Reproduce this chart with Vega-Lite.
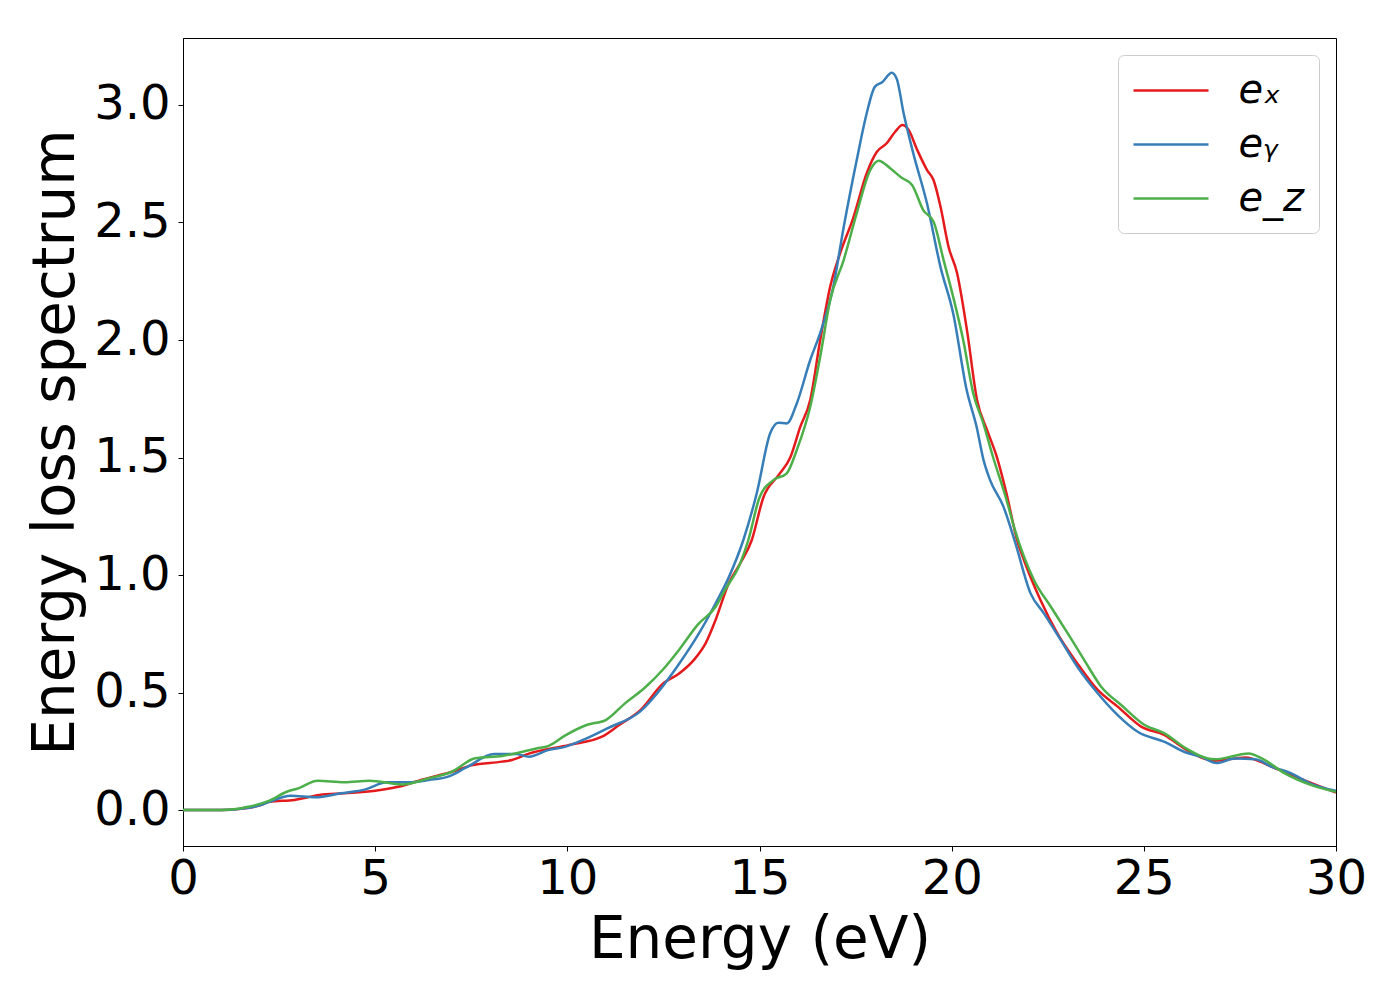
{
  "$schema": "https://vega.github.io/schema/vega-lite/v6.json",
  "width": 1153,
  "height": 808,
  "autosize": {"type": "none"},
  "padding": {"left": 183, "top": 38, "right": 64, "bottom": 154},
  "background": "white",
  "config": {
    "font": "DejaVu Sans",
    "view": {"stroke": "black", "strokeWidth": 1},
    "axis": {
      "labelFont": "DejaVu Sans",
      "titleFont": "DejaVu Sans",
      "labelFontSize": 48,
      "titleFontSize": 58,
      "titleFontWeight": "normal",
      "labelColor": "black",
      "titleColor": "black",
      "domainColor": "black",
      "tickColor": "black",
      "tickSize": 5,
      "grid": false
    },
    "legend": {
      "labelFont": "DejaVu Sans",
      "labelFontSize": 40,
      "labelFontStyle": "italic",
      "labelColor": "black"
    }
  },
  "datasets": {
    "spectra": [
      {"E": 0, "v": 0, "s": "eₓ"},
      {"E": 1.0, "v": 0, "s": "eₓ"},
      {"E": 1.5, "v": 0.005, "s": "eₓ"},
      {"E": 2.0, "v": 0.02, "s": "eₓ"},
      {"E": 2.25, "v": 0.035, "s": "eₓ"},
      {"E": 2.9, "v": 0.043, "s": "eₓ"},
      {"E": 3.55, "v": 0.064, "s": "eₓ"},
      {"E": 4.2, "v": 0.071, "s": "eₓ"},
      {"E": 5.0, "v": 0.082, "s": "eₓ"},
      {"E": 5.6, "v": 0.099, "s": "eₓ"},
      {"E": 6.24, "v": 0.13, "s": "eₓ"},
      {"E": 7.0, "v": 0.163, "s": "eₓ"},
      {"E": 7.5, "v": 0.19, "s": "eₓ"},
      {"E": 8.3, "v": 0.206, "s": "eₓ"},
      {"E": 8.56, "v": 0.213, "s": "eₓ"},
      {"E": 9.0, "v": 0.24, "s": "eₓ"},
      {"E": 10.05, "v": 0.277, "s": "eₓ"},
      {"E": 10.9, "v": 0.312, "s": "eₓ"},
      {"E": 11.35, "v": 0.362, "s": "eₓ"},
      {"E": 11.9, "v": 0.425, "s": "eₓ"},
      {"E": 12.5, "v": 0.54, "s": "eₓ"},
      {"E": 12.9, "v": 0.58, "s": "eₓ"},
      {"E": 13.3, "v": 0.64, "s": "eₓ"},
      {"E": 13.6, "v": 0.71, "s": "eₓ"},
      {"E": 13.86, "v": 0.81, "s": "eₓ"},
      {"E": 14.2, "v": 0.965, "s": "eₓ"},
      {"E": 14.5, "v": 1.05, "s": "eₓ"},
      {"E": 14.8, "v": 1.149, "s": "eₓ"},
      {"E": 15.1, "v": 1.33, "s": "eₓ"},
      {"E": 15.5, "v": 1.426, "s": "eₓ"},
      {"E": 15.8, "v": 1.5, "s": "eₓ"},
      {"E": 16.06, "v": 1.63, "s": "eₓ"},
      {"E": 16.32, "v": 1.745, "s": "eₓ"},
      {"E": 16.58, "v": 2.0, "s": "eₓ"},
      {"E": 16.84, "v": 2.227, "s": "eₓ"},
      {"E": 17.1, "v": 2.37, "s": "eₓ"},
      {"E": 17.44, "v": 2.52, "s": "eₓ"},
      {"E": 17.79, "v": 2.71, "s": "eₓ"},
      {"E": 18.05, "v": 2.8, "s": "eₓ"},
      {"E": 18.31, "v": 2.837, "s": "eₓ"},
      {"E": 18.53, "v": 2.886, "s": "eₓ"},
      {"E": 18.72, "v": 2.915, "s": "eₓ"},
      {"E": 18.88, "v": 2.894, "s": "eₓ"},
      {"E": 19.1, "v": 2.81, "s": "eₓ"},
      {"E": 19.36, "v": 2.723, "s": "eₓ"},
      {"E": 19.53, "v": 2.68, "s": "eₓ"},
      {"E": 19.71, "v": 2.567, "s": "eₓ"},
      {"E": 19.92, "v": 2.396, "s": "eₓ"},
      {"E": 20.14, "v": 2.285, "s": "eₓ"},
      {"E": 20.4, "v": 2.04, "s": "eₓ"},
      {"E": 20.66, "v": 1.745, "s": "eₓ"},
      {"E": 20.92, "v": 1.617, "s": "eₓ"},
      {"E": 21.18, "v": 1.5, "s": "eₓ"},
      {"E": 21.43, "v": 1.345, "s": "eₓ"},
      {"E": 21.7, "v": 1.149, "s": "eₓ"},
      {"E": 21.88, "v": 1.064, "s": "eₓ"},
      {"E": 22.31, "v": 0.894, "s": "eₓ"},
      {"E": 22.75, "v": 0.752, "s": "eₓ"},
      {"E": 23.27, "v": 0.624, "s": "eₓ"},
      {"E": 23.8, "v": 0.511, "s": "eₓ"},
      {"E": 24.32, "v": 0.44, "s": "eₓ"},
      {"E": 24.93, "v": 0.355, "s": "eₓ"},
      {"E": 25.54, "v": 0.319, "s": "eₓ"},
      {"E": 26.06, "v": 0.261, "s": "eₓ"},
      {"E": 26.85, "v": 0.21, "s": "eₓ"},
      {"E": 27.64, "v": 0.224, "s": "eₓ"},
      {"E": 28.33, "v": 0.184, "s": "eₓ"},
      {"E": 29.2, "v": 0.125, "s": "eₓ"},
      {"E": 30, "v": 0.074, "s": "eₓ"},

      {"E": 0, "v": 0, "s": "eᵧ"},
      {"E": 1.0, "v": 0, "s": "eᵧ"},
      {"E": 1.5, "v": 0.005, "s": "eᵧ"},
      {"E": 2.0, "v": 0.02, "s": "eᵧ"},
      {"E": 2.25, "v": 0.035, "s": "eᵧ"},
      {"E": 2.8, "v": 0.061, "s": "eᵧ"},
      {"E": 3.45, "v": 0.054, "s": "eᵧ"},
      {"E": 4.1, "v": 0.071, "s": "eᵧ"},
      {"E": 4.75, "v": 0.088, "s": "eᵧ"},
      {"E": 5.3, "v": 0.118, "s": "eᵧ"},
      {"E": 5.87, "v": 0.118, "s": "eᵧ"},
      {"E": 6.4, "v": 0.128, "s": "eᵧ"},
      {"E": 6.9, "v": 0.142, "s": "eᵧ"},
      {"E": 7.36, "v": 0.18, "s": "eᵧ"},
      {"E": 8.1, "v": 0.238, "s": "eᵧ"},
      {"E": 8.66, "v": 0.238, "s": "eᵧ"},
      {"E": 9.0, "v": 0.227, "s": "eᵧ"},
      {"E": 9.5, "v": 0.255, "s": "eᵧ"},
      {"E": 9.96, "v": 0.27, "s": "eᵧ"},
      {"E": 10.5, "v": 0.305, "s": "eᵧ"},
      {"E": 11.07, "v": 0.35, "s": "eᵧ"},
      {"E": 11.9, "v": 0.42, "s": "eᵧ"},
      {"E": 12.5, "v": 0.53, "s": "eᵧ"},
      {"E": 12.9, "v": 0.62, "s": "eᵧ"},
      {"E": 13.4, "v": 0.745, "s": "eᵧ"},
      {"E": 13.86, "v": 0.88, "s": "eᵧ"},
      {"E": 14.2, "v": 0.99, "s": "eᵧ"},
      {"E": 14.58, "v": 1.149, "s": "eᵧ"},
      {"E": 14.93, "v": 1.349, "s": "eᵧ"},
      {"E": 15.28, "v": 1.604, "s": "eᵧ"},
      {"E": 15.49, "v": 1.648, "s": "eᵧ"},
      {"E": 15.71, "v": 1.645, "s": "eᵧ"},
      {"E": 15.97, "v": 1.73, "s": "eᵧ"},
      {"E": 16.32, "v": 1.915, "s": "eᵧ"},
      {"E": 16.58, "v": 2.03, "s": "eᵧ"},
      {"E": 16.92, "v": 2.227, "s": "eᵧ"},
      {"E": 17.19, "v": 2.48, "s": "eᵧ"},
      {"E": 17.53, "v": 2.766, "s": "eᵧ"},
      {"E": 17.79, "v": 2.965, "s": "eᵧ"},
      {"E": 18.0, "v": 3.077, "s": "eᵧ"},
      {"E": 18.2, "v": 3.098, "s": "eᵧ"},
      {"E": 18.44, "v": 3.137, "s": "eᵧ"},
      {"E": 18.57, "v": 3.112, "s": "eᵧ"},
      {"E": 18.75, "v": 2.965, "s": "eᵧ"},
      {"E": 19.0, "v": 2.795, "s": "eᵧ"},
      {"E": 19.36, "v": 2.58, "s": "eᵧ"},
      {"E": 19.71, "v": 2.31, "s": "eᵧ"},
      {"E": 20.04, "v": 2.113, "s": "eᵧ"},
      {"E": 20.39, "v": 1.787, "s": "eᵧ"},
      {"E": 20.65, "v": 1.63, "s": "eᵧ"},
      {"E": 20.83, "v": 1.489, "s": "eᵧ"},
      {"E": 21.0, "v": 1.404, "s": "eᵧ"},
      {"E": 21.35, "v": 1.29, "s": "eᵧ"},
      {"E": 21.65, "v": 1.14, "s": "eᵧ"},
      {"E": 22.05, "v": 0.923, "s": "eᵧ"},
      {"E": 22.4, "v": 0.837, "s": "eᵧ"},
      {"E": 22.84, "v": 0.723, "s": "eᵧ"},
      {"E": 23.27, "v": 0.61, "s": "eᵧ"},
      {"E": 23.8, "v": 0.497, "s": "eᵧ"},
      {"E": 24.32, "v": 0.404, "s": "eᵧ"},
      {"E": 24.84, "v": 0.333, "s": "eᵧ"},
      {"E": 25.54, "v": 0.29, "s": "eᵧ"},
      {"E": 26.06, "v": 0.247, "s": "eᵧ"},
      {"E": 26.5, "v": 0.226, "s": "eᵧ"},
      {"E": 26.89, "v": 0.2, "s": "eᵧ"},
      {"E": 27.37, "v": 0.219, "s": "eᵧ"},
      {"E": 27.9, "v": 0.216, "s": "eᵧ"},
      {"E": 28.33, "v": 0.184, "s": "eᵧ"},
      {"E": 28.85, "v": 0.155, "s": "eᵧ"},
      {"E": 29.29, "v": 0.116, "s": "eᵧ"},
      {"E": 30, "v": 0.082, "s": "eᵧ"},

      {"E": 0, "v": 0, "s": "e_z"},
      {"E": 1.0, "v": 0, "s": "e_z"},
      {"E": 1.7, "v": 0.014, "s": "e_z"},
      {"E": 2.25, "v": 0.04, "s": "e_z"},
      {"E": 2.7, "v": 0.078, "s": "e_z"},
      {"E": 3.0, "v": 0.092, "s": "e_z"},
      {"E": 3.5, "v": 0.125, "s": "e_z"},
      {"E": 4.2, "v": 0.118, "s": "e_z"},
      {"E": 4.85, "v": 0.125, "s": "e_z"},
      {"E": 5.7, "v": 0.109, "s": "e_z"},
      {"E": 6.4, "v": 0.135, "s": "e_z"},
      {"E": 7.0, "v": 0.163, "s": "e_z"},
      {"E": 7.6, "v": 0.22, "s": "e_z"},
      {"E": 8.3, "v": 0.23, "s": "e_z"},
      {"E": 9.2, "v": 0.262, "s": "e_z"},
      {"E": 9.5, "v": 0.272, "s": "e_z"},
      {"E": 9.96, "v": 0.319, "s": "e_z"},
      {"E": 10.5, "v": 0.362, "s": "e_z"},
      {"E": 11.0, "v": 0.383, "s": "e_z"},
      {"E": 11.5, "v": 0.454, "s": "e_z"},
      {"E": 12.0, "v": 0.518, "s": "e_z"},
      {"E": 12.5, "v": 0.6, "s": "e_z"},
      {"E": 12.9, "v": 0.68, "s": "e_z"},
      {"E": 13.4, "v": 0.79, "s": "e_z"},
      {"E": 13.86, "v": 0.865, "s": "e_z"},
      {"E": 14.1, "v": 0.936, "s": "e_z"},
      {"E": 14.5, "v": 1.05, "s": "e_z"},
      {"E": 14.71, "v": 1.149, "s": "e_z"},
      {"E": 15.0, "v": 1.33, "s": "e_z"},
      {"E": 15.36, "v": 1.404, "s": "e_z"},
      {"E": 15.71, "v": 1.433, "s": "e_z"},
      {"E": 15.97, "v": 1.532, "s": "e_z"},
      {"E": 16.32, "v": 1.716, "s": "e_z"},
      {"E": 16.58, "v": 1.93, "s": "e_z"},
      {"E": 16.84, "v": 2.17, "s": "e_z"},
      {"E": 17.19, "v": 2.34, "s": "e_z"},
      {"E": 17.53, "v": 2.54, "s": "e_z"},
      {"E": 17.88, "v": 2.723, "s": "e_z"},
      {"E": 18.1, "v": 2.763, "s": "e_z"},
      {"E": 18.4, "v": 2.731, "s": "e_z"},
      {"E": 18.7, "v": 2.69, "s": "e_z"},
      {"E": 18.97, "v": 2.66, "s": "e_z"},
      {"E": 19.26, "v": 2.553, "s": "e_z"},
      {"E": 19.53, "v": 2.503, "s": "e_z"},
      {"E": 19.79, "v": 2.34, "s": "e_z"},
      {"E": 20.04, "v": 2.183, "s": "e_z"},
      {"E": 20.3, "v": 2.0, "s": "e_z"},
      {"E": 20.56, "v": 1.774, "s": "e_z"},
      {"E": 20.82, "v": 1.647, "s": "e_z"},
      {"E": 21.08, "v": 1.5, "s": "e_z"},
      {"E": 21.43, "v": 1.319, "s": "e_z"},
      {"E": 21.62, "v": 1.206, "s": "e_z"},
      {"E": 22.14, "v": 0.979, "s": "e_z"},
      {"E": 22.58, "v": 0.865, "s": "e_z"},
      {"E": 23.02, "v": 0.752, "s": "e_z"},
      {"E": 23.45, "v": 0.638, "s": "e_z"},
      {"E": 23.89, "v": 0.525, "s": "e_z"},
      {"E": 24.41, "v": 0.447, "s": "e_z"},
      {"E": 25.02, "v": 0.362, "s": "e_z"},
      {"E": 25.54, "v": 0.326, "s": "e_z"},
      {"E": 26.06, "v": 0.266, "s": "e_z"},
      {"E": 26.85, "v": 0.216, "s": "e_z"},
      {"E": 27.73, "v": 0.241, "s": "e_z"},
      {"E": 28.08, "v": 0.219, "s": "e_z"},
      {"E": 28.68, "v": 0.155, "s": "e_z"},
      {"E": 29.38, "v": 0.105, "s": "e_z"},
      {"E": 30, "v": 0.078, "s": "e_z"}
    ]
  },
  "data": {"name": "spectra"},
  "mark": {"type": "line", "strokeWidth": 2.5, "interpolate": "monotone", "clip": true},
  "encoding": {
    "x": {
      "field": "E",
      "type": "quantitative",
      "title": "Energy (eV)",
      "scale": {"domain": [0, 30], "nice": false},
      "axis": {"values": [0, 5, 10, 15, 20, 25, 30], "format": "d", "labelFlush": false, "labelOverlap": false, "labelBound": false, "labelPadding": 4, "titlePadding": 8}
    },
    "y": {
      "field": "v",
      "type": "quantitative",
      "title": "Energy loss spectrum",
      "scale": {"domain": [-0.153, 3.285], "nice": false, "zero": false},
      "axis": {"values": [0, 0.5, 1, 1.5, 2, 2.5, 3], "format": ".1f", "labelFlush": false, "labelPadding": 8, "titlePadding": 8}
    },
    "color": {
      "field": "s",
      "type": "nominal",
      "scale": {"domain": ["eₓ", "eᵧ", "e_z"], "range": ["#e41a1c", "#377eb8", "#4daf4a"]},
      "legend": {
        "title": null,
        "orient": "top-right",
        "offset": 17,
        "padding": 14,
        "strokeColor": "#cccccc",
        "fillColor": "white",
        "cornerRadius": 6,
        "symbolType": "M-1.875,0H1.875",
        "symbolSize": 1600,
        "symbolStrokeWidth": 2.5,
        "symbolOffset": 17.5,
        "labelOffset": 46,
        "rowPadding": 12
      }
    }
  }
}
